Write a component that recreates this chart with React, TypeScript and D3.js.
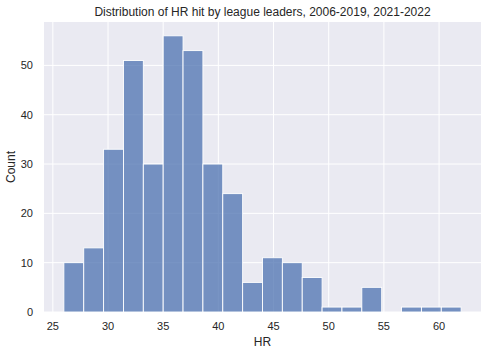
import { useEffect, useRef } from 'react';
import * as d3 from 'd3';

// histogram bins: start at 26 HR, each 1.8 wide
const binStart = 26;
const binWidth = 1.8;
const counts = [10, 13, 33, 51, 30, 56, 53, 30, 24, 6, 11, 10, 7, 1, 1, 5, 0, 1, 1, 1];
const xTicks = [25, 30, 35, 40, 45, 50, 55, 60];
const yTicks = [0, 10, 20, 30, 40, 50];

const title = 'Distribution of HR hit by league leaders, 2006-2019, 2021-2022';

export default function App() {
  const svgRef = useRef<SVGSVGElement>(null);

  useEffect(() => {
    const width = 488;
    const height = 353;
    const margin = { top: 22, right: 7, bottom: 41, left: 44 };
    const innerW = width - margin.left - margin.right;
    const innerH = height - margin.top - margin.bottom;

    const svg = d3.select(svgRef.current);
    svg.selectAll('*').remove();
    svg.attr('width', width).attr('height', height);

    const font = '"Liberation Sans", Arial, sans-serif';
    const textColor = '#262626';

    const bins = counts.map((c, i) => ({
      x0: binStart + i * binWidth,
      x1: binStart + (i + 1) * binWidth,
      count: c,
    }));

    const lo = binStart;
    const hi = binStart + counts.length * binWidth;
    const pad = (hi - lo) * 0.05;
    const x = d3.scaleLinear().domain([lo - pad, hi + pad]).range([0, innerW]);
    const y = d3.scaleLinear().domain([0, d3.max(counts)! * 1.05]).range([innerH, 0]);

    const g = svg.append('g').attr('transform', `translate(${margin.left},${margin.top})`);

    g.append('rect')
      .attr('width', innerW)
      .attr('height', innerH)
      .attr('fill', '#eaeaf2');

    // grid
    g.selectAll('.vgrid')
      .data(xTicks)
      .enter()
      .append('line')
      .attr('x1', d => x(d))
      .attr('x2', d => x(d))
      .attr('y1', 0)
      .attr('y2', innerH)
      .attr('stroke', 'white')
      .attr('stroke-width', 1);

    g.selectAll('.hgrid')
      .data(yTicks)
      .enter()
      .append('line')
      .attr('x1', 0)
      .attr('x2', innerW)
      .attr('y1', d => y(d))
      .attr('y2', d => y(d))
      .attr('stroke', 'white')
      .attr('stroke-width', 1);

    // bars
    g.selectAll('.bar')
      .data(bins.filter(b => b.count > 0))
      .enter()
      .append('rect')
      .attr('x', d => x(d.x0))
      .attr('y', d => y(d.count))
      .attr('width', d => x(d.x1) - x(d.x0))
      .attr('height', d => y(0) - y(d.count))
      .attr('fill', 'rgba(76,114,176,0.75)')
      .attr('stroke', 'white')
      .attr('stroke-width', 0.9);

    // tick labels
    g.selectAll('.xlab')
      .data(xTicks)
      .enter()
      .append('text')
      .attr('x', d => x(d))
      .attr('y', innerH + 18)
      .attr('text-anchor', 'middle')
      .style('font-family', font)
      .style('font-size', '11px')
      .style('fill', textColor)
      .text(d => d);

    g.selectAll('.ylab')
      .data(yTicks)
      .enter()
      .append('text')
      .attr('x', -11)
      .attr('y', d => y(d))
      .attr('dy', '0.35em')
      .attr('text-anchor', 'end')
      .style('font-family', font)
      .style('font-size', '11px')
      .style('fill', textColor)
      .text(d => d);

    // axis titles
    svg.append('text')
      .attr('x', margin.left + innerW / 2)
      .attr('y', height - 7)
      .attr('text-anchor', 'middle')
      .style('font-family', font)
      .style('font-size', '12px')
      .style('fill', textColor)
      .text('HR');

    svg.append('text')
      .attr('transform', `translate(15,${margin.top + innerH / 2}) rotate(-90)`)
      .attr('text-anchor', 'middle')
      .style('font-family', font)
      .style('font-size', '12px')
      .style('fill', textColor)
      .text('Count');

    svg.append('text')
      .attr('x', margin.left + innerW / 2)
      .attr('y', 16)
      .attr('text-anchor', 'middle')
      .style('font-family', font)
      .style('font-size', '12px')
      .style('fill', textColor)
      .text(title);
  }, []);

  return (
    <div style={{ position: 'absolute', left: 0, top: 0 }}>
      <svg ref={svgRef}></svg>
    </div>
  );
}
